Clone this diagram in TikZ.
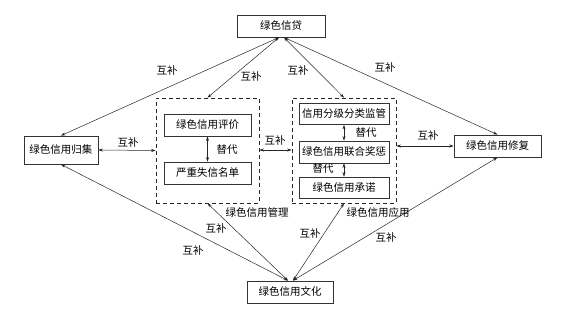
\documentclass[tikz,border=0pt]{standalone}
\usepackage{fontspec}
\setmainfont{Liberation Serif}
\newfontfamily\cjk{Noto Sans CJK SC}
\usetikzlibrary{arrows.meta}
\tikzset{
  box/.style={draw=black!80, line width=0.8pt, fill=white, inner sep=0pt, font=\cjk\fontsize{10.5}{12}\selectfont},
  dbox/.style={draw=black!85, line width=0.7pt, dash pattern=on 4pt off 3pt, inner sep=0pt},
  lab/.style={inner sep=0pt, font=\cjk\fontsize{10.5}{12}\selectfont},
  link/.style={line width=0.5pt, black!85, {Stealth[length=4.5pt,width=3pt]}-{Stealth[length=4.5pt,width=3pt]}},
}
\begin{document}
\begin{tikzpicture}[x=1pt,y=-1pt]
\useasboundingbox (0,0) rectangle (566,312);
% dashed groups
\node[dbox, minimum width=103pt, minimum height=105pt] (leftbox) at (207.5,150.5) {};
\node[dbox, minimum width=104pt, minimum height=105pt] (rightbox) at (344,150.5) {};
% outer nodes
\node[box, minimum width=88pt, minimum height=22pt] (xindai) at (281,26) {绿色信贷};
\node[box, minimum width=74pt, minimum height=28pt] (guiji) at (61,150) {绿色信用归集};
\node[box, minimum width=87pt, minimum height=22pt] (xiufu) at (497.5,146) {绿色信用修复};
\node[box, minimum width=86pt, minimum height=22pt] (wenhua) at (290,292) {绿色信用文化};
% inner nodes
\node[box, minimum width=87pt, minimum height=22pt] (pingjia) at (207.5,125) {绿色信用评价};
\node[box, minimum width=87pt, minimum height=22pt] (mingdan) at (207.5,173) {严重失信名单};
\node[box, minimum width=90pt, minimum height=21pt] (jianguan) at (344,114) {信用分级分类监管};
\node[box, minimum width=90pt, minimum height=22pt] (jiangcheng) at (344,152) {绿色信用联合奖惩};
\node[box, minimum width=90pt, minimum height=21pt] (chengnuo) at (344,187.5) {绿色信用承诺};
% coordinates
\coordinate (xdL) at ([xshift=-2pt]xindai.south);
\coordinate (xdR) at ([xshift=3pt]xindai.south);
\coordinate (whL) at ([xshift=-2pt]wenhua.north);
\coordinate (whR) at ([xshift=3pt]wenhua.north);
% top links
\draw[link] (xdL) -- (guiji.north);
\draw[link] (xdL) -- (leftbox.north);
\draw[link] (xdR) -- (rightbox.north);
\draw[link] (xdR) -- (xiufu.north);
% bottom links
\draw[link] (whL) -- (guiji.south);
\draw[link] (whL) -- (leftbox.south);
\draw[link] (whR) -- (rightbox.south);
\draw[link] (whR) -- (xiufu.south);
% horizontal links
\draw[link] (guiji.east) -- (leftbox.west);
\draw[link] ([yshift=0.5pt]leftbox.east) -- ([yshift=0.5pt]rightbox.west);
\draw[link] (xiufu.west) -- (rightbox.east |- xiufu.west);
% inner links
\draw[link] (pingjia.south) -- (mingdan.north);
\draw[link] (jianguan.south) -- (jiangcheng.north);
\draw[link] (jiangcheng.south) -- (chengnuo.north);
% labels
\node[lab] (l1) at (167,71) {互补};
\node[lab] (l2) at (251,77) {互补};
\node[lab] (l3) at (298,71) {互补};
\node[lab] (l4) at (385,68) {互补};
\node[lab] (l5) at (128,143) {互补};
\node[lab] (l6) at (275,141) {互补};
\node[lab] (l7) at (428,136) {互补};
\node[lab] (l8) at (216,229) {互补};
\node[lab] (l9) at (193,251) {互补};
\node[lab] (l10) at (310,234) {互补};
\node[lab] (l11) at (386,238) {互补};
\node[lab] (t1) at (227,150) {替代};
\node[lab] (t2) at (366,133) {替代};
\node[lab] (t3) at (323,169) {替代};
\node[lab] (m1) at (257,213) {绿色信用管理};
\node[lab] (m2) at (378,213) {绿色信用应用};
\end{tikzpicture}
\end{document}
